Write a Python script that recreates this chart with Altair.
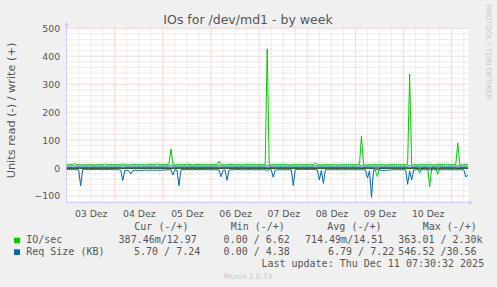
import json
import altair as alt
import pandas as pd

# ---------------- data (hourly, hours since 03 Dez 00:00) ----------------
HOURS = list(range(201))
DAY_LABELS = ["03 Dez", "04 Dez", "05 Dez", "06 Dez", "07 Dez", "08 Dez", "09 Dez", "10 Dez"]
Y_TICKS = [-100, 0, 100, 200, 300, 400, 500]

# IO/sec write (+)
IO_WRITE = (
    [12, 12, 14, 12, 16, 12, 13, 12, 11, 12, 12, 13, 12, 12, 11, 12, 13, 12, 12, 15, 12, 12, 13, 12]
    + [12, 12, 13, 12, 15, 12, 12, 11, 12, 13, 12, 12, 12, 14, 12, 11, 12, 12, 13, 12, 12, 15, 12, 12]
    + [12, 13, 12, 14, 68, 12, 11, 12, 13, 12, 12, 12, 15, 12, 12, 11, 12, 13, 12, 12, 12, 14, 12, 12]
    + [12, 12, 13, 12, 24, 12, 12, 11, 12, 13, 12, 12, 12, 14, 12, 11, 12, 12, 13, 12, 12, 14, 12, 12]
    + [12, 13, 12, 12, 426, 12, 11, 12, 13, 12, 12, 12, 14, 12, 12, 11, 12, 13, 12, 12, 12, 14, 12, 12]
    + [12, 12, 13, 12, 19, 12, 12, 11, 12, 13, 12, 12, 12, 14, 12, 11, 12, 12, 13, 12, 12, 14, 12, 12]
    + [12, 13, 12, 115, 12, 12, 11, 12, 13, 12, 12, 12, 14, 12, 12, 11, 12, 13, 12, 12, 12, 14, 12, 12]
    + [12, 12, 13, 336, 12, 12, 12, 11, 12, 13, 12, 12, 12, 14, 12, 11, 12, 12, 13, 12, 12, 14, 12, 12]
    + [12, 13, 12, 90, 12, 11, 12, 13, 13]
)
# IO/sec read (-)
IO_READ = (
    [0, 0, 0, 0, 1, 0, 0, 0, 0, 0, 0, 0, 0, 0, 0, 0, 0, 0, 0, 0, 0, 0, 0, 0]
    + [0, 0, 0, 0, 1, 0, 0, 0, 0, 0, 0, 0, 0, 0, 0, 0, 0, 0, 0, 0, 0, 0, 0, 0]
    + [0, 0, 0, 0, 2, 0, 0, 0, 0, 0, 0, 0, 0, 0, 0, 0, 0, 0, 0, 0, 0, 0, 0, 0]
    + [0, 0, 0, 0, 1, 0, 0, 0, 0, 0, 0, 0, 0, 0, 0, 0, 0, 0, 0, 0, 0, 0, 0, 0]
    + [0, 0, 0, 0, 3, 0, 0, 0, 0, 0, 0, 0, 0, 0, 0, 0, 0, 0, 0, 0, 0, 0, 0, 0]
    + [0, 0, 0, 0, 1, 0, 0, 0, 0, 0, 0, 0, 0, 0, 0, 0, 0, 0, 0, 0, 0, 0, 0, 0]
    + [0, 0, 0, 1, 0, 0, 0, 0, 0, 0, 12, 30, 0, 0, 0, 0, 0, 0, 0, 0, 0, 0, 0, 0]
    + [0, 0, 0, 2, 0, 0, 0, 0, 18, 0, 0, 0, 0, 67, 0, 0, 0, 22, 0, 0, 0, 0, 0, 0]
    + [0, 0, 0, 1, 0, 0, 0, 0, 0.4]
)
# Req Size (KB) write (+)
REQ_WRITE = (
    [7, 7, 7, 8, 7, 7, 7, 7, 7, 7, 7, 7, 7, 7, 7, 7, 7, 7, 7, 7, 7, 7, 7, 7]
    + [7, 7, 7, 7, 8, 7, 7, 7, 7, 7, 7, 7, 7, 7, 7, 7, 7, 7, 7, 7, 7, 7, 7, 7]
    + [7, 7, 7, 7, 8, 7, 7, 7, 7, 7, 7, 7, 7, 7, 7, 7, 7, 7, 7, 7, 7, 7, 7, 7]
    + [7, 7, 7, 7, 8, 7, 7, 7, 7, 7, 7, 7, 7, 7, 7, 7, 7, 7, 7, 7, 7, 7, 7, 7]
    + [7, 7, 7, 7, 8, 7, 7, 7, 7, 7, 7, 7, 7, 7, 7, 7, 7, 7, 7, 7, 7, 7, 7, 7]
    + [7, 7, 7, 7, 8, 7, 7, 7, 7, 7, 7, 7, 7, 7, 7, 7, 7, 7, 7, 7, 7, 7, 7, 7]
    + [7, 7, 7, 8, 7, 7, 7, 7, 7, 7, 7, 7, 7, 7, 7, 7, 7, 7, 7, 7, 7, 7, 7, 7]
    + [7, 7, 7, 8, 7, 7, 7, 7, 7, 7, 7, 7, 7, 7, 7, 7, 7, 7, 7, 7, 7, 7, 7, 7]
    + [7, 7, 7, 8, 7, 7, 7, 7, 7]
)
# Req Size (KB) read (-)
REQ_READ = (
    [5, 5, 6, 5, 5, 6, 6, 63, 6, 5, 5, 6, 5, 5, 6, 5, 5, 5, 6, 5, 5, 6, 5, 5]
    + [6, 6, 6, 8, 44, 9, 8, 10, 22, 9, 8, 8, 9, 8, 8, 7, 8, 8, 7, 8, 8, 7, 8, 8]
    + [7, 7, 6, 6, 6, 25, 6, 7, 63, 6, 6, 6, 5, 6, 6, 6, 5, 6, 6, 6, 5, 6, 6, 6]
    + [6, 6, 6, 6, 7, 31, 8, 7, 44, 7, 6, 6, 6, 6, 5, 6, 6, 6, 6, 5, 6, 6, 6, 6]
    + [6, 6, 6, 6, 8, 6, 6, 33, 8, 6, 6, 6, 6, 6, 6, 6, 6, 62, 5, 5, 5, 5, 6, 5]
    + [5, 5, 5, 5, 6, 6, 43, 8, 55, 6, 6, 6, 6, 6, 5, 6, 6, 6, 6, 6, 5, 6, 6, 6]
    + [6, 6, 6, 6, 6, 6, 36, 10, 105, 8, 6, 6, 7, 8, 9, 8, 8, 7, 6, 6, 6, 6, 6, 6]
    + [6, 6, 58, 10, 43, 7, 6, 6, 6, 6, 6, 6, 6, 6, 6, 6, 6, 6, 6, 6, 6, 6, 6, 6]
    + [6, 6, 6, 6, 6, 6, 6, 32, 26]
)

# ---------------- layout ----------------
PL, PT = 66.6, 28.3          # plot origin in the page
W, H = 401.6, 174.4          # plot area
X_DOMAIN = [0, 200.2]
Y_DOMAIN = [-124, 500]
GREEN, BLUE = "#00CC00", "#0066B3"
TXT = "#555555"
AXIS_COL = "#CCCCF8"
MINOR_COL = "#DCDCDC"
MAJOR_COL = "#F4B4B4"

xs = alt.Scale(domain=X_DOMAIN, nice=False, zero=False)
ys = alt.Scale(domain=Y_DOMAIN, nice=False, zero=False)
label_expr = json.dumps(DAY_LABELS) + "[floor(datum.value / 24)]"
x_axis = alt.Axis(values=[12 + 24 * i for i in range(len(DAY_LABELS))], labelExpr=label_expr,
                  title=None, ticks=False, tickSize=0, domain=False, grid=False,
                  labelFont="DejaVu Sans", labelFontSize=9.3, labelColor=TXT,
                  labelPadding=6.6, labelFlush=False, labelOverlap=False)
y_axis = alt.Axis(values=Y_TICKS, title=None, ticks=False, tickSize=0, domain=False, grid=False,
                  labelFont="DejaVu Sans", labelFontSize=9.3, labelColor=TXT,
                  labelPadding=7, labelFlush=False, labelOverlap=False)


def X(field):
    return alt.X(field, type="quantitative", scale=xs, axis=x_axis)


def Y(field):
    return alt.Y(field, type="quantitative", scale=ys, axis=y_axis)


ONE = pd.DataFrame({"k": [0]})
layers = []

# grid
x_minor = [h for h in range(6, 201, 6) if h % 24 != 0]
x_major = [h for h in range(24, 201, 24)]
y_minor = [v for v in range(-120, 500, 20) if v % 100 != 0]
y_major = Y_TICKS

layers.append(alt.Chart(pd.DataFrame({"h": x_minor})).mark_rule(
    color=MINOR_COL, strokeWidth=1, strokeDash=[1, 1]).encode(x=X("h"), y=alt.value(0), y2=alt.value(H)))
layers.append(alt.Chart(pd.DataFrame({"v": y_minor})).mark_rule(
    color=MINOR_COL, strokeWidth=1, strokeDash=[1, 1]).encode(y=Y("v"), x=alt.value(0), x2=alt.value(W)))
layers.append(alt.Chart(pd.DataFrame({"h": x_major})).mark_rule(
    color=MAJOR_COL, strokeWidth=1, strokeDash=[1, 1]).encode(x=X("h"), y=alt.value(0), y2=alt.value(H)))
layers.append(alt.Chart(pd.DataFrame({"v": y_major})).mark_rule(
    color=MAJOR_COL, strokeWidth=1, strokeDash=[1, 1]).encode(y=Y("v"), x=alt.value(0), x2=alt.value(W)))

# axis lines and arrows
layers.append(alt.Chart(ONE).mark_rule(color=AXIS_COL, strokeWidth=1).encode(
    x=alt.value(0), y=alt.value(-2), y2=alt.value(H)))
layers.append(alt.Chart(ONE).mark_rule(color=AXIS_COL, strokeWidth=1).encode(
    x=alt.value(0), x2=alt.value(W + 3), y=alt.value(H)))
layers.append(alt.Chart(ONE).mark_point(shape="triangle-up", filled=True, size=22, color=AXIS_COL, opacity=1).encode(
    x=alt.value(0), y=alt.value(-4.5)))
layers.append(alt.Chart(ONE).mark_point(shape="triangle-right", filled=True, size=22, color=AXIS_COL, opacity=1).encode(
    x=alt.value(W + 3), y=alt.value(H)))


def series(values, sign, color):
    df = pd.DataFrame({"h": HOURS, "v": [sign * v for v in values]})
    return alt.Chart(df).mark_line(color=color, strokeWidth=1, clip=True).encode(x=X("h"), y=Y("v"))


layers.append(series(IO_READ, -1, GREEN))
layers.append(series(IO_WRITE, 1, GREEN))
layers.append(series(REQ_READ, -1, BLUE))
layers.append(series(REQ_WRITE, 1, BLUE))

# zero line
layers.append(alt.Chart(pd.DataFrame({"v": [0]})).mark_rule(color="#000000", strokeWidth=1).encode(
    y=Y("v"), x=alt.value(0), x2=alt.value(W)))


def label(txt, x, y, size, color=TXT, font="DejaVu Sans", align="left", baseline="alphabetic", angle=None):
    mk = dict(text=txt, fontSize=size, color=color, font=font, align=align, baseline=baseline)
    if angle is not None:
        mk["angle"] = angle
    return alt.Chart(ONE).mark_text(**mk).encode(x=alt.value(x - PL), y=alt.value(y - PT))


MONO = "DejaVu Sans Mono"
layers += [
    label("IOs for /dev/md1 - by week", 248, 24, 12.5, align="center"),
    label("Units read (-) / write (+)", 12, 110.5, 11.3, align="center", baseline="middle", angle=270),
    label("RRDTOOL / TOBI OETIKER", 488, 52, 7.4, color="#C8C8C8", align="center", baseline="middle", angle=90),
    label("Cur (-/+)", 134.3, 230, 10, font=MONO),
    label("Min (-/+)", 230.7, 230, 10, font=MONO),
    label("Avg (-/+)", 327.3, 230, 10, font=MONO),
    label("Max (-/+)", 422.7, 230, 10, font=MONO),
    label("IO/sec", 26.2, 243, 10, font=MONO),
    label("387.46m/12.97", 118.6, 243, 10, font=MONO),
    label("0.00 / 6.62", 223.6, 243, 10, font=MONO),
    label("714.49m/14.51", 305, 243, 10, font=MONO),
    label("363.01 / 2.30k", 398.3, 243, 10, font=MONO),
    label("Req Size (KB)", 26.2, 255, 10, font=MONO),
    label("5.70 / 7.24", 134, 255, 10, font=MONO),
    label("0.00 / 4.38", 223.6, 255, 10, font=MONO),
    label("6.79 / 7.22", 328, 255, 10, font=MONO),
    label("546.52 /30.56", 398.3, 255, 10, font=MONO),
    label("Last update: Thu Dec 11 07:30:32 2025", 261.4, 266.7, 10, font=MONO),
    label("Munin 2.0.73", 248, 279.4, 7.4, color="#C8C8C8", align="center"),
]

# legend swatches
for col, y0, y1 in [(GREEN, 237.7, 243.3), (BLUE, 249.3, 255.0)]:
    layers.append(alt.Chart(ONE).mark_rect(color=col).encode(
        x=alt.value(14 - PL), x2=alt.value(20 - PL), y=alt.value(y0 - PT), y2=alt.value(y1 - PT)))

chart = alt.layer(*layers).properties(
    width=W, height=H,
    padding={"left": PL, "top": PT, "right": 497 - PL - W, "bottom": 287 - PT - H},
    autosize="none",
    background="#F0F0F0",
).configure_view(fill="white", strokeWidth=0)

chart.save("out.html", embed_options={"renderer": "svg", "actions": False})
